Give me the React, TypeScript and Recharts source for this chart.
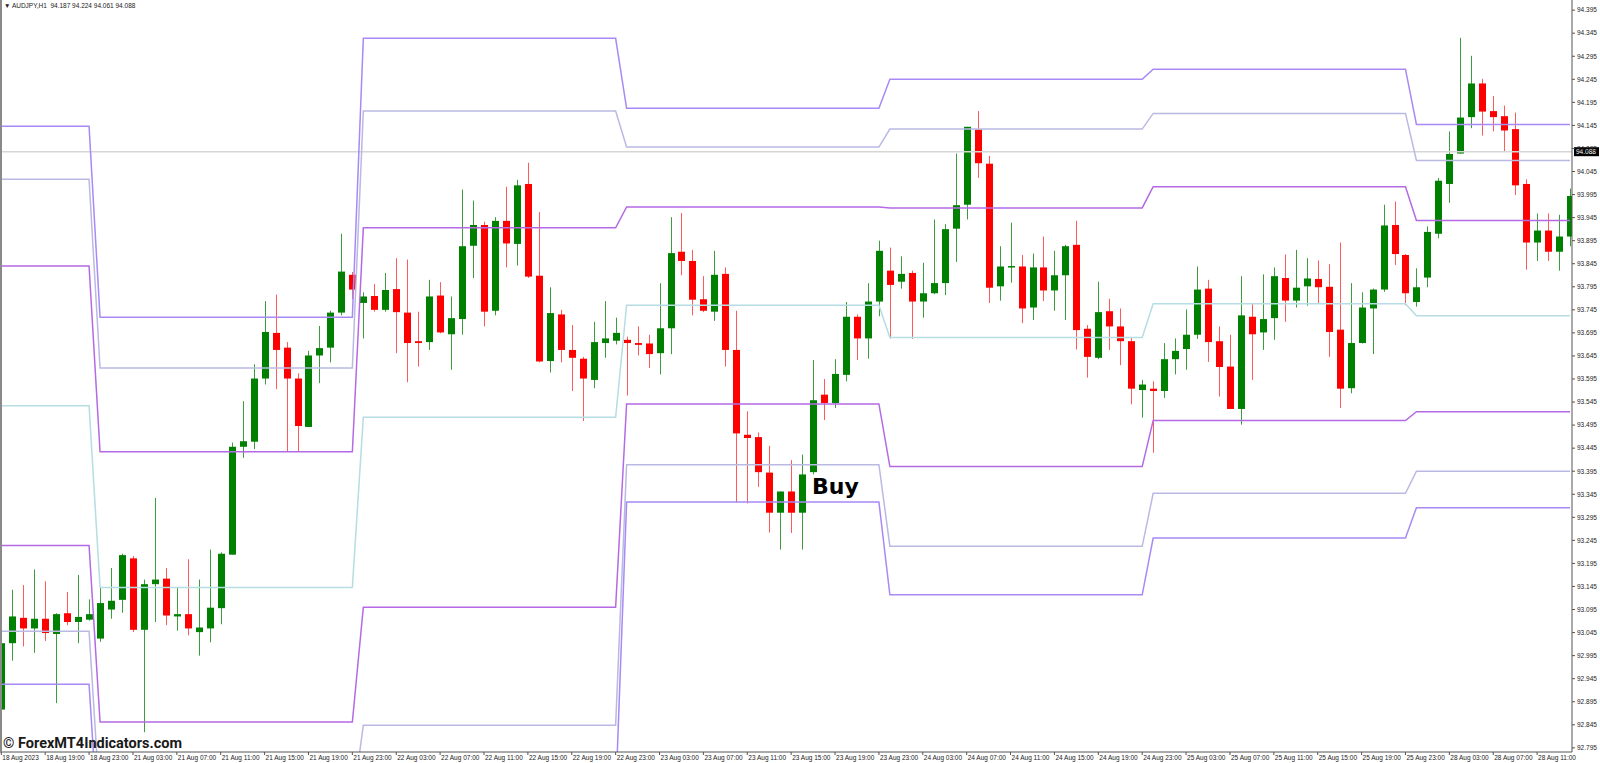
import React from 'react';
import { ComposedChart, Bar, Line, XAxis, YAxis, ReferenceLine, ReferenceDot } from 'recharts';

// AUDJPY H1, bars from 18 Aug 15:00 to 28 Aug 14:00
const opens = [
  92.878, 93.022, 93.077, 93.054, 93.075, 93.042, 93.087, 93.068, 93.073, 93.032,
  93.095, 93.116, 93.206, 93.051, 93.150, 93.162, 93.080, 93.085, 93.046, 93.054,
  93.098, 93.214, 93.448, 93.459, 93.596, 93.695, 93.663, 93.596, 93.491, 93.646,
  93.663, 93.739, 93.821, 93.760, 93.775, 93.745, 93.790, 93.739, 93.677, 93.675,
  93.776, 93.692, 93.725, 93.884, 93.929, 93.743, 93.938, 93.888, 94.018, 93.819,
  93.634, 93.735, 93.658, 93.639, 93.593, 93.673, 93.678, 93.680, 93.673, 93.672,
  93.651, 93.705, 93.871, 93.851, 93.768, 93.741, 93.823, 93.658, 93.474, 93.469,
  93.392, 93.305, 93.351, 93.305, 93.393, 93.561, 93.543, 93.604, 93.730, 93.683,
  93.763, 93.830, 93.806, 93.825, 93.763, 93.781, 93.803, 93.921, 93.973, 94.136,
  94.062, 93.796, 93.837, 93.839, 93.750, 93.837, 93.787, 93.820, 93.886, 93.704,
  93.641, 93.742, 93.709, 93.677, 93.571, 93.574, 93.569, 93.638, 93.660, 93.691,
  93.791, 93.677, 93.622, 93.530, 93.730, 93.696, 93.727, 93.814, 93.765, 93.796,
  93.812, 93.795, 93.702, 93.575, 93.673, 93.748, 93.789, 93.929, 93.864, 93.762,
  93.815, 93.910, 94.018, 94.084, 94.163, 94.236, 94.176, 94.165, 94.137, 94.018,
  93.891, 93.917, 93.871, 93.904,
];
const highs = [
  93.040, 93.138, 93.148, 93.182, 93.156, 93.087, 93.133, 93.170, 93.117, 93.143,
  93.185, 93.216, 93.211, 93.160, 93.337, 93.185, 93.143, 93.204, 93.160, 93.225,
  93.219, 93.457, 93.547, 93.627, 93.764, 93.778, 93.675, 93.607, 93.656, 93.710,
  93.743, 93.910, 93.827, 93.783, 93.801, 93.825, 93.857, 93.854, 93.741, 93.810,
  93.805, 93.774, 94.006, 93.982, 93.936, 93.946, 94.012, 94.027, 94.064, 93.957,
  93.794, 93.745, 93.712, 93.643, 93.719, 93.764, 93.728, 93.687, 93.709, 93.691,
  93.803, 93.946, 93.955, 93.875, 93.818, 93.873, 93.837, 93.743, 93.525, 93.479,
  93.450, 93.351, 93.419, 93.431, 93.636, 93.595, 93.638, 93.762, 93.735, 93.803,
  93.895, 93.880, 93.861, 93.830, 93.847, 93.941, 93.931, 94.084, 94.142, 94.176,
  94.079, 93.883, 93.934, 93.864, 93.867, 93.904, 93.873, 93.886, 93.938, 93.712,
  93.806, 93.769, 93.748, 93.685, 93.593, 93.590, 93.673, 93.683, 93.746, 93.839,
  93.810, 93.709, 93.691, 93.818, 93.760, 93.822, 93.837, 93.865, 93.875, 93.857,
  93.852, 93.844, 93.891, 93.803, 93.783, 93.791, 93.973, 93.980, 93.866, 93.835,
  93.926, 94.031, 94.132, 94.335, 94.296, 94.246, 94.209, 94.188, 94.173, 94.028,
  93.954, 93.954, 93.951, 94.008,
];
const lows = [
  92.872, 92.984, 93.015, 93.001, 93.027, 92.892, 93.061, 93.022, 93.071, 93.025,
  93.075, 93.088, 93.046, 92.829, 93.068, 93.061, 93.049, 93.039, 92.995, 93.024,
  93.063, 93.214, 93.424, 93.443, 93.583, 93.573, 93.438, 93.438, 93.491, 93.586,
  93.631, 93.733, 93.768, 93.683, 93.741, 93.741, 93.651, 93.588, 93.622, 93.658,
  93.694, 93.615, 93.691, 93.814, 93.709, 93.733, 93.837, 93.841, 93.814, 93.631,
  93.609, 93.631, 93.569, 93.504, 93.575, 93.641, 93.670, 93.559, 93.646, 93.619,
  93.605, 93.649, 93.820, 93.733, 93.740, 93.721, 93.622, 93.327, 93.325, 93.361,
  93.262, 93.225, 93.261, 93.225, 93.388, 93.506, 93.532, 93.590, 93.636, 93.639,
  93.731, 93.683, 93.791, 93.682, 93.728, 93.779, 93.777, 93.849, 93.941, 94.031,
  93.760, 93.765, 93.804, 93.716, 93.723, 93.764, 93.743, 93.723, 93.659, 93.598,
  93.638, 93.658, 93.625, 93.540, 93.511, 93.435, 93.554, 93.605, 93.615, 93.682,
  93.632, 93.557, 93.530, 93.496, 93.593, 93.658, 93.680, 93.719, 93.750, 93.754,
  93.760, 93.643, 93.532, 93.564, 93.672, 93.649, 93.784, 93.842, 93.755, 93.752,
  93.794, 93.900, 93.977, 94.084, 94.139, 94.123, 94.132, 94.089, 93.994, 93.832,
  93.851, 93.851, 93.830, 93.883,
];
const closes = [
  93.022, 93.080, 93.054, 93.075, 93.044, 93.085, 93.068, 93.079, 93.085, 93.109,
  93.114, 93.213, 93.051, 93.150, 93.160, 93.082, 93.085, 93.054, 93.056, 93.099,
  93.216, 93.448, 93.460, 93.596, 93.697, 93.658, 93.596, 93.493, 93.646, 93.662,
  93.739, 93.828, 93.789, 93.774, 93.745, 93.788, 93.740, 93.673, 93.673, 93.774,
  93.696, 93.727, 93.883, 93.929, 93.741, 93.938, 93.889, 94.015, 93.817, 93.633,
  93.738, 93.658, 93.641, 93.596, 93.675, 93.683, 93.695, 93.673, 93.669, 93.649,
  93.705, 93.868, 93.851, 93.767, 93.743, 93.821, 93.658, 93.477, 93.467, 93.393,
  93.305, 93.351, 93.305, 93.388, 93.549, 93.543, 93.606, 93.730, 93.683, 93.763,
  93.873, 93.799, 93.823, 93.763, 93.781, 93.803, 93.920, 93.972, 94.142, 94.063,
  93.793, 93.839, 93.840, 93.748, 93.837, 93.787, 93.820, 93.883, 93.701, 93.643,
  93.740, 93.709, 93.677, 93.574, 93.583, 93.569, 93.638, 93.656, 93.691, 93.789,
  93.675, 93.621, 93.530, 93.733, 93.692, 93.725, 93.818, 93.765, 93.793, 93.813,
  93.794, 93.697, 93.574, 93.673, 93.750, 93.789, 93.928, 93.866, 93.781, 93.794,
  93.914, 94.025, 94.083, 94.162, 94.236, 94.175, 94.163, 94.134, 94.015, 93.891,
  93.917, 93.871, 93.904, 93.992,
];

// first bar of each trading day (18, 21, 22, 23, 24, 25, 28 Aug)
const dayStartBars = [0, 9, 33, 57, 81, 105, 129];

// daily levels, one per day
const r3Levels = [94.143, 93.729, 94.334, 94.182, 94.245, 94.267, 94.147];
const r2Levels = [94.028, 93.619, 94.176, 94.098, 94.137, 94.171, 94.069];
const r1Levels = [93.840, 93.437, 93.923, 93.968, 93.966, 94.012, 93.939];
const ppLevels = [93.537, 93.143, 93.512, 93.755, 93.685, 93.758, 93.732];
const s1Levels = [93.234, 92.851, 93.100, 93.541, 93.405, 93.505, 93.524];
const s2Levels = [93.048, 92.669, 92.844, 93.409, 93.232, 93.347, 93.395];
const s3Levels = [92.933, 92.559, 92.687, 93.328, 93.127, 93.250, 93.316];

const timeLabels = [
  '18 Aug 2023', '18 Aug 19:00', '18 Aug 23:00', '21 Aug 03:00', '21 Aug 07:00', '21 Aug 11:00',
  '21 Aug 15:00', '21 Aug 19:00', '21 Aug 23:00', '22 Aug 03:00', '22 Aug 07:00', '22 Aug 11:00',
  '22 Aug 15:00', '22 Aug 19:00', '22 Aug 23:00', '23 Aug 03:00', '23 Aug 07:00', '23 Aug 11:00',
  '23 Aug 15:00', '23 Aug 19:00', '23 Aug 23:00', '24 Aug 03:00', '24 Aug 07:00', '24 Aug 11:00',
  '24 Aug 15:00', '24 Aug 19:00', '24 Aug 23:00', '25 Aug 03:00', '25 Aug 07:00', '25 Aug 11:00',
  '25 Aug 15:00', '25 Aug 19:00', '25 Aug 23:00', '28 Aug 03:00', '28 Aug 07:00', '28 Aug 11:00',
];
const labelEvery = 4;

const priceTicks = [
  94.395, 94.345, 94.295, 94.245, 94.195, 94.145, 94.095, 94.045, 93.995, 93.945, 93.895,
  93.845, 93.795, 93.745, 93.695, 93.645, 93.595, 93.545, 93.495, 93.445, 93.395, 93.345,
  93.295, 93.245, 93.195, 93.145, 93.095, 93.045, 92.995, 92.945, 92.895, 92.845, 92.795,
];

const bidPrice = 94.088;
const headerText = 'AUDJPY,H1  94.187 94.224 94.061 94.088';
const signalText = 'Buy';
const signalBar = 73.9;
const signalPrice = 93.345;

const dayOf = (i: number) => {
  let d = 0;
  dayStartBars.forEach((s, k) => {
    if (i >= s) d = k;
  });
  return d;
};

const rows = opens.map((o, i) => {
  const d = dayOf(i);
  return {
    i,
    o,
    h: highs[i],
    l: lows[i],
    c: closes[i],
    r3: r3Levels[d],
    r2: r2Levels[d],
    r1: r1Levels[d],
    pp: ppLevels[d],
    s1: s1Levels[d],
    s2: s2Levels[d],
    s3: s3Levels[d],
  };
});

const xTicks = timeLabels.map((_, k) => k * labelEvery);
const font = '"Liberation Sans", Arial, sans-serif';

const Candle = (props: any) => {
  const { x, y, width, height, payload } = props;
  if (x == null || !payload) return null;
  const { o, h, l, c } = payload;
  const span = h - l || 1e-9;
  const py = (v: number) => y + ((h - v) / span) * height;
  const up = c >= o;
  const cx = Math.round(x + width / 2) + 0.5;
  const top = py(Math.max(o, c));
  const bot = py(Math.min(o, c));
  return (
    <g>
      <line x1={cx} x2={cx} y1={y} y2={y + height} stroke={up ? '#3d9d3d' : '#ff5a5a'} strokeWidth={1} />
      <rect x={cx - 3.5} y={top} width={7} height={Math.max(1.5, bot - top)} fill={up ? '#008000' : '#ff0000'} />
    </g>
  );
};

const XTick = ({ x, y, payload }: any) => (
  <text x={x + 1} y={y + 5} fontSize={6.5} fill="#222" fontFamily={font}>
    {timeLabels[Math.round(payload.value / labelEvery)]}
  </text>
);

const YTick = ({ x, y, payload }: any) => (
  <text x={x} y={y + 2.3} fontSize={6.5} fill="#222" fontFamily={font}>
    {payload.value.toFixed(3)}
  </text>
);

const BidLabel = ({ viewBox }: any) => {
  if (!viewBox) return null;
  const bx = viewBox.x + viewBox.width + 2;
  return (
    <g>
      <rect x={bx} y={viewBox.y - 4.5} width={25} height={9} fill="#000" />
      <text x={bx + 2} y={viewBox.y + 2.3} fontSize={6.5} fill="#fff" fontFamily={font}>
        {bidPrice.toFixed(3)}
      </text>
    </g>
  );
};

const SignalLabel = ({ viewBox }: any) => {
  if (!viewBox) return null;
  return (
    <text x={viewBox.x} y={viewBox.y} fontSize={22} fontWeight="bold" fill="#000" fontFamily='"DejaVu Sans", sans-serif'>
      {signalText}
    </text>
  );
};

const levelLines = [
  { key: 'r3', color: '#a889f5' },
  { key: 'r2', color: '#b9b9e4' },
  { key: 'r1', color: '#b46ae4' },
  { key: 'pp', color: '#b5dde3' },
  { key: 's1', color: '#b46ae4' },
  { key: 's2', color: '#b9b9e4' },
  { key: 's3', color: '#a889f5' },
];

export default function App() {
  return (
    <div style={{ position: 'relative', width: 1600, height: 763, background: '#fff', overflow: 'hidden' }}>
      <style>{'body{margin:0}'}</style>
      <ComposedChart width={1600} height={763} data={rows} margin={{ top: 0, right: 0, bottom: 0, left: 0 }}>
        <XAxis
          dataKey="i"
          type="number"
          domain={[-0.12, 143.18]}
          allowDataOverflow
          ticks={xTicks}
          interval={0}
          height={11}
          tickSize={3}
          tickMargin={0}
          tick={<XTick />}
          axisLine={{ stroke: '#555' }}
          tickLine={{ stroke: '#555' }}
        />
        <YAxis
          orientation="right"
          type="number"
          domain={[92.786, 94.417]}
          allowDataOverflow
          ticks={priceTicks}
          interval={0}
          width={28}
          tickSize={3}
          tickMargin={2}
          tick={<YTick />}
          axisLine={{ stroke: '#555' }}
          tickLine={{ stroke: '#555' }}
        />
        <ReferenceLine y={bidPrice} stroke="#d6d6d6" strokeWidth={1.5} label={<BidLabel />} />
        <Bar
          dataKey={(d: any) => [d.l, d.h]}
          barSize={7}
          shape={<Candle />}
          isAnimationActive={false}
        />
        {levelLines.map((ln) => (
          <Line
            key={ln.key}
            dataKey={ln.key}
            type="linear"
            stroke={ln.color}
            strokeWidth={1.5}
            dot={false}
            activeDot={false}
            isAnimationActive={false}
          />
        ))}
        <ReferenceDot x={signalBar} y={signalPrice} r={0} fill="none" stroke="none" label={<SignalLabel />} />
      </ComposedChart>
      <div style={{ position: 'absolute', left: 0, top: 0, width: 1.5, height: 752, background: '#8a8a8a' }} />
      <div
        style={{
          position: 'absolute',
          left: 4,
          top: 2,
          fontFamily: font,
          fontSize: 6.5,
          lineHeight: '8px',
          color: '#222',
          whiteSpace: 'pre',
        }}
      >
        {'\u25BC ' + headerText}
      </div>
      <div
        style={{
          position: 'absolute',
          left: 3,
          top: 736,
          fontFamily: 'Roboto, sans-serif',
          fontWeight: 700,
          fontSize: 14.5,
          lineHeight: '15px',
          color: '#1a1a1a',
          whiteSpace: 'pre',
        }}
      >
        {'\u00A9 ForexMT4Indicators.com'}
      </div>
    </div>
  );
}
